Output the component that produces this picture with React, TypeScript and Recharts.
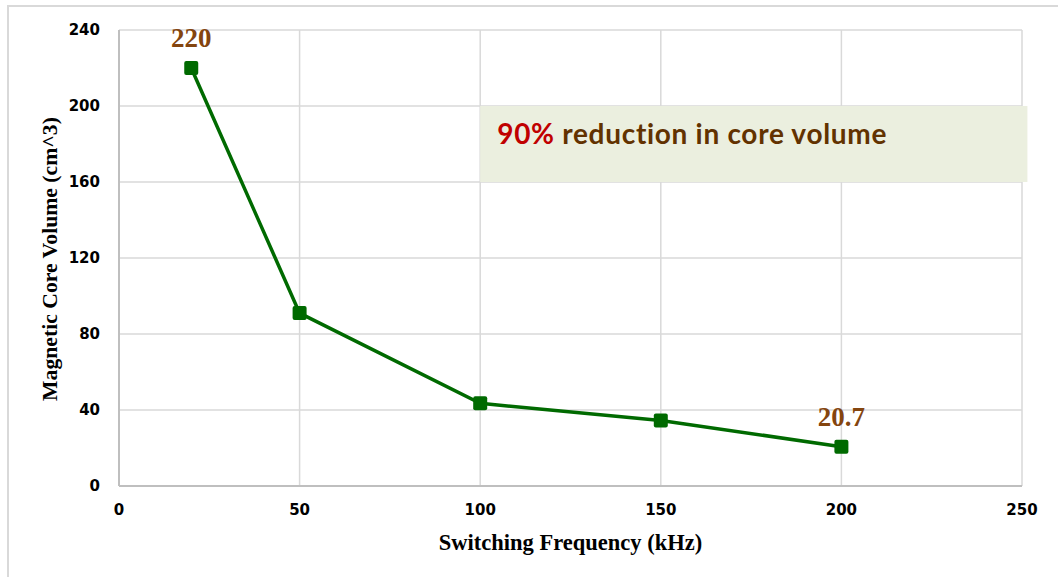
import React from "react";
import {
  LineChart,
  Line,
  XAxis,
  YAxis,
  CartesianGrid,
  ReferenceArea,
  LabelList,
} from "recharts";

const freqs = [20, 50, 100, 150, 200];
const volumes = [220, 91, 43.5, 34.5, 20.7];
const pointLabels = ["220", "", "", "", "20.7"];
const xTicks = [0, 50, 100, 150, 200, 250];
const yTicks = [0, 40, 80, 120, 160, 200, 240];
const xTitle = "Switching Frequency (kHz)";
const yTitle = "Magnetic Core Volume (cm^3)";
const noteHighlight = "90%";
const noteRest = " reduction in core volume";
const noteBox = { x1: 100, x2: 251.5, y1: 160, y2: 200 };

const data = freqs.map((f, i) => ({ freq: f, volume: volumes[i], label: pointLabels[i] }));

const GREEN = "#006A00";
const tickStyle = { fontFamily: "DejaVu Sans", fontWeight: 700, fontSize: 15, fill: "#000" };
const serif = "'Liberation Serif', 'Times New Roman', serif";

const SquareDot = (props: any) => {
  const { cx, cy } = props;
  if (cx == null || cy == null) return null;
  return <rect x={cx - 7} y={cy - 7} width={14} height={14} rx={2} fill={GREEN} />;
};

const PointLabel = (props: any) => {
  const { x, y, value } = props;
  if (!value) return null;
  return (
    <text x={x} y={y - 21} textAnchor="middle" fontFamily={serif} fontWeight={700} fontSize={27} fill="#84450F">
      {value}
    </text>
  );
};

const XTitle = (props: any) => {
  const { viewBox } = props;
  const cx = viewBox.x + viewBox.width / 2;
  return (
    <text x={cx} y={viewBox.y + 64} textAnchor="middle" fontFamily={serif} fontWeight={700} fontSize={22.5} fill="#000">
      {xTitle}
    </text>
  );
};

const YTitle = (props: any) => {
  const { viewBox } = props;
  const cx = 50;
  const cy = viewBox.y + viewBox.height / 2 + 1;
  return (
    <text
      x={cx}
      y={cy}
      transform={`rotate(-90, ${cx}, ${cy})`}
      textAnchor="middle"
      dominantBaseline="central"
      fontFamily={serif}
      fontWeight={700}
      fontSize={21.7}
      fill="#000"
    >
      {yTitle}
    </text>
  );
};

const NoteLabel = (props: any) => {
  const { viewBox } = props;
  return (
    <text x={viewBox.x + 17} y={viewBox.y + 38} fontFamily="Lato" fontWeight={700} fontSize={28} letterSpacing={0.7}>
      <tspan fill="#C00000">{noteHighlight}</tspan>
      <tspan fill="#623200">{noteRest}</tspan>
    </text>
  );
};

export default function App() {
  return (
    <div style={{ position: "absolute", left: 0, top: 0, width: 1058, height: 577, background: "#fff" }}>
      <div
        style={{
          position: "absolute",
          left: 7,
          top: 5,
          width: 1058,
          height: 580,
          borderLeft: "2px solid #d9d9d9",
          borderTop: "2px solid #d9d9d9",
        }}
      />
      <div style={{ position: "absolute", left: 0, top: 0 }}>
        <LineChart width={1058} height={577} data={data} margin={{ top: 30, right: 36, left: 0, bottom: 0 }}>
          <CartesianGrid stroke="#d9d9d9" strokeWidth={1.5} />
          <XAxis
            dataKey="freq"
            type="number"
            domain={[0, 250]}
            ticks={xTicks}
            height={91}
            tickLine={false}
            tickMargin={12}
            axisLine={{ stroke: "#bfbfbf", strokeWidth: 2 }}
            tick={tickStyle}
            label={<XTitle />}
          />
          <YAxis
            type="number"
            domain={[0, 240]}
            ticks={yTicks}
            width={119}
            tickLine={false}
            tickMargin={13}
            axisLine={{ stroke: "#bfbfbf", strokeWidth: 2 }}
            tick={tickStyle}
            label={<YTitle />}
          />
          <ReferenceArea
            x1={noteBox.x1}
            x2={noteBox.x2}
            y1={noteBox.y1}
            y2={noteBox.y2}
            fill="#EBEFDF"
            fillOpacity={1}
            stroke="none"
            ifOverflow="visible"
            label={<NoteLabel />}
          />
          <Line
            dataKey="volume"
            stroke={GREEN}
            strokeWidth={3.5}
            dot={<SquareDot />}
            activeDot={false}
            isAnimationActive={false}
          >
            <LabelList dataKey="label" content={<PointLabel />} />
          </Line>
        </LineChart>
      </div>
    </div>
  );
}
